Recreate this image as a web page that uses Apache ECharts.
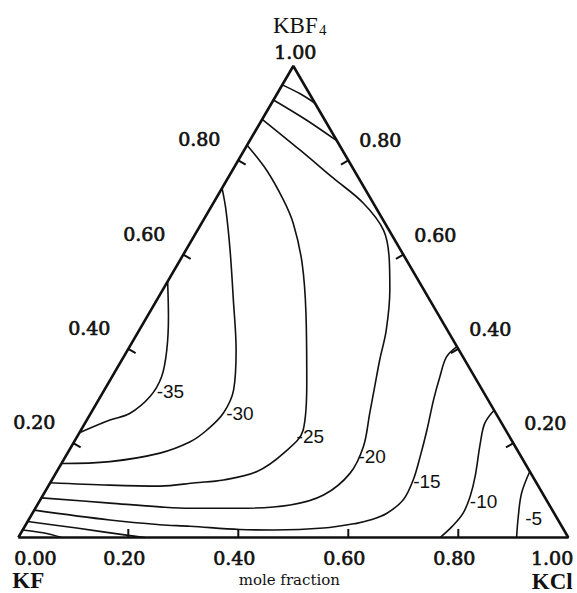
<!DOCTYPE html>
<html><head><meta charset="utf-8">
<script src="https://cdn.jsdelivr.net/npm/echarts@6/dist/echarts.min.js"></script>
<style>html,body{margin:0;padding:0;background:#fff}#c{width:577px;height:593px}</style>
</head><body><div id="c"></div>
<script>
// Ternary compositions are written as [KCl, KBF4]; KF = 1 - KCl - KBF4
const tickValues = [0.2, 0.4, 0.6, 0.8];
const contourLevels = [-35, -30, -25, -20, -15, -10, -5];

const apexLineA = [[0,0.960],[0.042,0.941],[0.079,0.921]];
const apexLineB = [[0,0.928],[0.082,0.885],[0.159,0.841]];
const c35 = [[0,0.543],[0.039,0.468],[0.071,0.398],[0.090,0.341],[0.090,0.299],[0.071,0.263],[0.042,0.249],[0,0.222]];
const c30 = [[0,0.741],[0.030,0.695],[0.080,0.610],[0.139,0.504],[0.197,0.398],[0.235,0.313],[0.241,0.264],[0.229,0.228],[0.211,0.203],[0.168,0.179],[0.086,0.161],[0,0.157]];
const c25 = [[0,0.832],[0.062,0.779],[0.124,0.716],[0.167,0.666],[0.225,0.582],[0.285,0.476],[0.361,0.327],[0.404,0.228],[0.393,0.179],[0.364,0.140],[0.312,0.122],[0.264,0.116],[0.203,0.109],[0.111,0.111],[0,0.116]];
const c20 = [[0,0.887],[0.101,0.822],[0.192,0.762],[0.273,0.709],[0.338,0.652],[0.380,0.589],[0.413,0.525],[0.449,0.440],[0.469,0.376],[0.487,0.323],[0.507,0.264],[0.531,0.193],[0.535,0.136],[0.510,0.090],[0.460,0.069],[0.372,0.062],[0.281,0.062],[0.225,0.065],[0.130,0.073],[0,0.084]];
const c15 = [[0.595,0.405],[0.587,0.383],[0.596,0.341],[0.609,0.292],[0.629,0.228],[0.645,0.171],[0.657,0.122],[0.660,0.080],[0.644,0.051],[0.621,0.037],[0.600,0.030],[0.545,0.020],[0.456,0.016],[0.394,0.017],[0.300,0.024],[0.244,0.027],[0.148,0.037],[0,0.058]];
const c10a = [[0.730,0.270],[0.727,0.242],[0.740,0.200],[0.766,0.129],[0.778,0.087],[0.783,0.051],[0.777,0.023],[0.767,0]];
const c10b = [[0,0.034],[0.096,0.020],[0.194,0.005],[0.230,0]];
const c5a = [[0.860,0.140],[0.868,0.094],[0.887,0.044],[0.906,0]];
const c5b = [[0,0.016],[0.040,0.010],[0.079,0]];
const contourLabelAt = [[0.097,0.309],[0.246,0.264],[0.399,0.214],[0.533,0.171],[0.659,0.118],[0.783,0.076],[0.901,0.041]];

const INK = '#111';
const toXY = p => [p[0] + p[1] / 2, p[1]];

const contourLines = [apexLineA, apexLineB, c35, c30, c25, c20, c15, c10a, c10b, c5a, c5b];

const chart = echarts.init(document.getElementById('c'), null, {renderer: 'svg', width: 577, height: 593});

function inwardNormal(api, side) {
  const L = api.coord([0, 0]), R = api.coord([1, 0]), T = api.coord([0.5, 1]);
  let a, b, o;
  if (side === 0) { a = L; b = T; o = R; }
  else if (side === 1) { a = R; b = T; o = L; }
  else { a = L; b = R; o = T; }
  let nx = -(b[1] - a[1]), ny = b[0] - a[0];
  const len = Math.hypot(nx, ny); nx /= len; ny /= len;
  if (nx * (o[0] - a[0]) + ny * (o[1] - a[1]) < 0) { nx = -nx; ny = -ny; }
  return [nx, ny];
}

// ticks: side 0 left edge (KCl=0), 1 right edge (KF=0), 2 base (KBF4=0)
const tickData = [];
tickValues.forEach(v => {
  tickData.push([...toXY([0, v]), 0]);
  tickData.push([...toXY([1 - v, v]), 1]);
  tickData.push([...toXY([v, 0]), 2]);
});

const serif = '"DejaVu Serif", serif';
const tnr = '"Liberation Serif", "Times New Roman", serif';
const tickFont = '19px ' + serif;
const textSpecs = [];
const textData = [];
function addText(comp, text, dx, dy, align, font, stroke) {
  textData.push(toXY(comp));
  textSpecs.push({text, dx, dy, align, font, stroke: stroke || 0});
}
tickValues.forEach(v => {
  addText([0, v], v.toFixed(2), -39, -21, 'center', tickFont, 0.7);
  addText([1 - v, v], v.toFixed(2), 32, -20, 'center', tickFont, 0.7);
  addText([v, 0], v.toFixed(2), -4, 20.5, 'center', tickFont, 0.7);
});
addText([0, 0], (0).toFixed(2), -4, 20.5, 'left', tickFont, 0.7);
addText([1, 0], (1).toFixed(2), 5, 20.5, 'right', tickFont, 0.7);
addText([0, 1], (1).toFixed(2), 2, -14.5, 'center', tickFont, 0.7);
addText([0, 0], 'KF', 10, 42.5, 'center', 'bold 23px ' + tnr);
addText([1, 0], 'KCl', -16, 43.5, 'center', 'bold 23px ' + tnr);
addText([0.5, 0], 'mole fraction', -4, 42, 'center', '15px ' + serif);
addText([0, 1], 'KBF', 2, -41, 'center', '23px ' + tnr);
addText([0, 1], '4', 29.5, -36, 'center', '15px ' + tnr);
contourLevels.forEach((lv, i) => {
  addText(contourLabelAt[i], String(lv), 0, 0, 'left', '19px "Liberation Sans", Arial, sans-serif');
});

const series = [];
series.push({
  type: 'line', data: [[0,0],[1,0],[0,1],[0,0]].map(toXY), symbol: 'none', clip: false,
  lineStyle: {color: INK, width: 2.6}, silent: true, z: 3
});
contourLines.forEach(pts => {
  series.push({
    type: 'line', data: pts.map(toXY), symbol: 'none', smooth: 0.35, clip: false,
    lineStyle: {color: INK, width: 1.6}, silent: true, z: 2
  });
});
series.push({
  type: 'custom', coordinateSystem: 'cartesian2d', data: tickData, silent: true, z: 4, clip: false,
  renderItem(params, api) {
    const p = api.coord([api.value(0), api.value(1)]);
    const n = inwardNormal(api, api.value(2));
    const len = 8.5;
    return {type: 'line', shape: {x1: p[0], y1: p[1], x2: p[0] + n[0] * len, y2: p[1] + n[1] * len},
      style: {stroke: INK, lineWidth: 2}};
  }
});
series.push({
  type: 'custom', coordinateSystem: 'cartesian2d', data: textData, silent: true, z: 5, clip: false,
  renderItem(params, api) {
    const s = textSpecs[params.dataIndex];
    const p = api.coord([api.value(0), api.value(1)]);
    const style = {text: s.text, font: s.font, fill: INK, align: s.align, verticalAlign: 'middle'};
    if (s.stroke) { style.stroke = INK; style.lineWidth = s.stroke; }
    return {type: 'text', x: p[0] + s.dx, y: p[1] + s.dy, style};
  }
});

chart.setOption({
  animation: false,
  backgroundColor: '#fff',
  grid: {left: 18.3, right: 8.7, top: 66, bottom: 55.5},
  xAxis: {type: 'value', min: 0, max: 1, show: false},
  yAxis: {type: 'value', min: 0, max: 1, show: false},
  series
});
</script></body></html>
